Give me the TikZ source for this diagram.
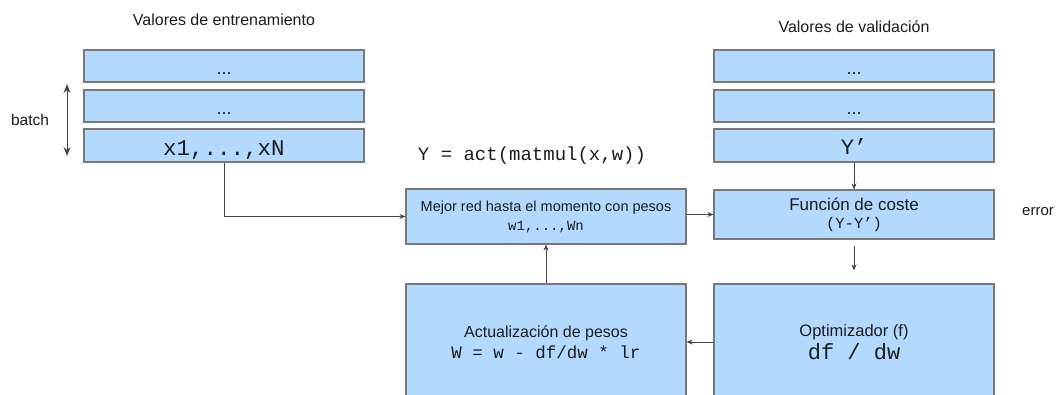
\documentclass[tikz,border=0pt]{standalone}
\usepackage{fontspec}
\setmainfont{Liberation Sans}
\setmonofont{Liberation Mono}
\usetikzlibrary{arrows.meta,calc}

\definecolor{boxfill}{RGB}{179,217,255}
\definecolor{boxline}{RGB}{120,120,120}
\definecolor{ink}{RGB}{28,28,28}
\definecolor{wire}{RGB}{70,70,70}

% font size helpers: size and leading in pt
\newcommand{\fsz}[2]{\fontsize{#1}{#2}\selectfont}
\newcommand{\mono}[2]{\ttfamily\fontsize{#1}{#2}\selectfont}
% text set on a baseline a given distance below the node centre
\newcommand{\lowered}[2]{\raisebox{-#1pt}[0pt][0pt]{#2}}

\begin{document}
\begin{tikzpicture}[x=1pt,y=-1pt,
  panel/.style={rectangle,draw=boxline,fill=boxfill,line width=1.1pt,
                inner sep=0pt,text=ink,align=center,minimum width=280pt},
  rowbox/.style={panel,minimum height=32pt},
  caption/.style={text=ink,inner sep=0pt},
  wirearrow/.style={draw=wire,line width=0.8pt,
                    -{Stealth[length=6pt,width=5pt]}},
  batcharrow/.style={draw=wire,line width=1pt,
                     {Stealth[length=9pt,width=7pt]}-{Stealth[length=9pt,width=7pt]}}]

\useasboundingbox (0,0) rectangle (1056,394);
\clip (0,0) rectangle (1056,394);

% --- training data column ---
\node[caption,font=\fsz{16}{19}] (trainlbl) at (224,20) {Valores de entrenamiento};
\node[rowbox] (tr1) at (224,66)   {\fsz{18}{20}\lowered{8}{...}};
\node[rowbox] (tr2) at (224,106)  {\fsz{18}{20}\lowered{8}{...}};
\node[rowbox,minimum height=33pt] (tr3) at (224,145.5) {\mono{22.5}{26}\lowered{9.5}{x1,...,xN}};

% batch marker
\node[caption,font=\fsz{15.5}{18}] (batchlbl) at (30,120) {batch};
\coordinate (batchtop) at (67,84);
\coordinate (batchbot) at (67,156);
\draw[batcharrow] (batchtop) -- (batchbot);

% --- validation data column ---
\node[caption,font=\fsz{16}{19}] (vallbl) at (854,27) {Valores de validación};
\node[rowbox] (va1) at (854,66)   {\fsz{18}{20}\lowered{8}{...}};
\node[rowbox] (va2) at (854,106)  {\fsz{18}{20}\lowered{8}{...}};
\node[rowbox,minimum height=33pt] (va3) at (854,145.5) {\mono{22}{26}\lowered{8.5}{Y’}};

% --- model formula ---
\node[caption,anchor=base,font=\mono{19}{22}] (formula) at (532,160) {Y = act(matmul(x,w))};

% --- processing boxes ---
\node[panel,minimum height=55pt,font=\fsz{14.5}{19}] (net) at (546,216.5)
  {\raisebox{-2pt}{Mejor red hasta el momento con pesos}\\{\mono{14}{19}\raisebox{-2pt}{w1,...,Wn}}};
\node[panel,minimum height=49pt,font=\fsz{17}{18}] (cost) at (854,214.5)
  {Función de coste\\{\mono{15.5}{18}(Y-Y’)}};
\node[caption,anchor=west,font=\fsz{15}{18}] (errlbl) at (1022,212) {error};

\node[panel,minimum height=116pt,font=\fsz{16}{21}] (update) at (546,342)
  {Actualización de pesos\\{\mono{17.5}{21}W = w - df/dw * lr}};
\node[panel,minimum height=116pt,font=\fsz{16.5}{23}] (optim) at (854,342)
  {Optimizador (f)\\{\mono{22}{23}df / dw}};

% --- connectors ---
\draw[wirearrow] (tr3.south) |- (net.west);
\draw[wirearrow] (va3.south) -- (cost.north);
\draw[wirearrow] (net.east |- cost.west) -- (cost.west);
\draw[wirearrow,shorten <=6pt,shorten >=13pt] (cost.south) -- (optim.north);
\draw[wirearrow] (optim.west) -- (update.east);
\draw[wirearrow] (update.north) -- (net.south);

\end{tikzpicture}
\end{document}
